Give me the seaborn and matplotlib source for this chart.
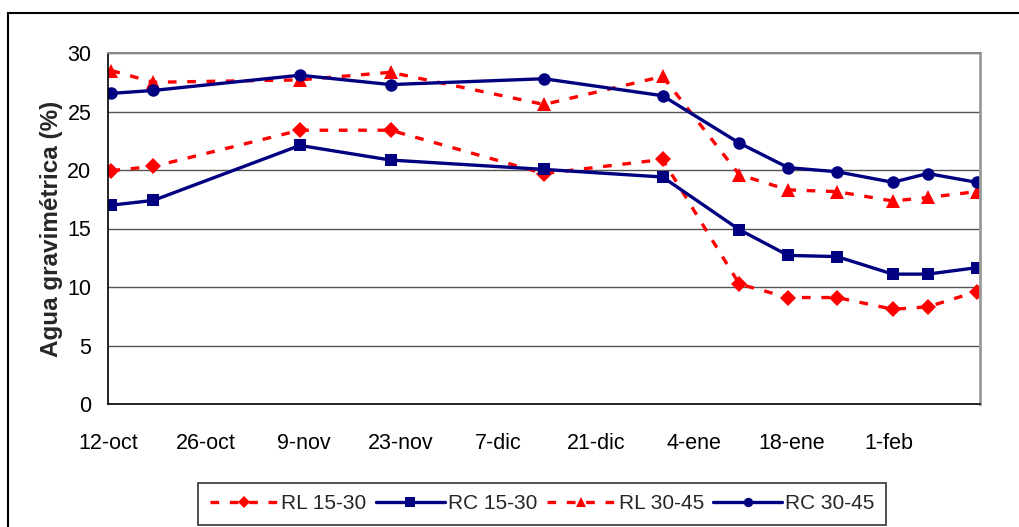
import matplotlib
matplotlib.use("Agg")
import matplotlib.pyplot as plt
from matplotlib.patches import Rectangle
import seaborn as sns
import pandas as pd

# ---- data ----
dates = ["2005-10-12", "2005-10-18", "2005-11-08", "2005-11-21", "2005-12-13", "2005-12-30",
         "2006-01-10", "2006-01-17", "2006-01-24", "2006-02-01", "2006-02-06", "2006-02-13"]
rl_15_30 = [19.95, 20.3, 23.4, 23.4, 19.7, 20.9, 10.25, 9.1, 9.1, 8.1, 8.3, 9.6]
rc_15_30 = [17.0, 17.4, 22.1, 20.85, 20.05, 19.4, 14.9, 12.7, 12.6, 11.1, 11.1, 11.65]
rl_30_45 = [28.5, 27.5, 27.7, 28.35, 25.6, 28.0, 19.6, 18.3, 18.15, 17.35, 17.65, 18.15]
rc_30_45 = [26.55, 26.8, 28.1, 27.3, 27.8, 26.35, 22.3, 20.2, 19.85, 18.95, 19.7, 18.95]
series_labels = ["RL 15-30", "RC 15-30", "RL 30-45", "RC 30-45"]
tick_dates = ["2005-10-12", "2005-10-26", "2005-11-09", "2005-11-23", "2005-12-07",
              "2005-12-21", "2006-01-04", "2006-01-18", "2006-02-01"]
tick_labels = ["12-oct", "26-oct", "9-nov", "23-nov", "7-dic", "21-dic", "4-ene", "18-ene", "1-feb"]
y_label = "Agua gravimétrica (%)"

sns.set_style("white")
plt.rcParams["font.family"] = ["Liberation Sans", "DejaVu Sans"]

x = pd.to_datetime(dates) + pd.Timedelta(hours=12)
df = pd.DataFrame({"fecha": x, series_labels[0]: rl_15_30, series_labels[1]: rc_15_30,
                   series_labels[2]: rl_30_45, series_labels[3]: rc_30_45})

fig = plt.figure(figsize=(10.19, 5.27), dpi=100)
ax = fig.add_axes([108 / 1019, 1 - 404 / 527, (980 - 108) / 1019, (404 - 53) / 527])

red = "#FF0000"
navy = "#000080"
styles = [
    dict(color=red, marker="D", markersize=8, linestyle=(0, (2.6, 3.2)), linewidth=2.4),
    dict(color=navy, marker="s", markersize=9, linestyle="-", linewidth=2.4),
    dict(color=red, marker="^", markersize=10, linestyle=(0, (2.6, 3.2)), linewidth=2.4),
    dict(color=navy, marker="o", markersize=9, linestyle="-", linewidth=2.4),
]
for lab, st in zip(series_labels, styles):
    sns.lineplot(data=df, x="fecha", y=lab, ax=ax, label=lab, markeredgewidth=0, **st)

ax.set_ylim(0, 30)
ax.set_yticks(range(0, 31, 5))
ax.set_xlim(pd.Timestamp("2005-10-12"), pd.Timestamp("2006-02-14"))
ax.set_xticks(pd.to_datetime(tick_dates))
ax.set_xticklabels(tick_labels)
ax.set_xlabel("")
ax.set_ylabel(y_label, fontsize=17.5, fontweight="bold", labelpad=3)
ax.tick_params(axis="both", labelsize=15.5, direction="out", length=6, width=1, colors="black")
ax.tick_params(axis="x", pad=15)
ax.tick_params(axis="y", pad=6)
ax.grid(axis="y", color="#555555", linewidth=1)
ax.grid(axis="x", visible=False)
for s in ["left", "bottom"]:
    ax.spines[s].set_color("black")
    ax.spines[s].set_linewidth(1.2)
ax.spines["top"].set_color("#888888")
ax.spines["top"].set_linewidth(1.5)
ax.spines["right"].set_color("#999999")
ax.spines["right"].set_linewidth(2)

handles, labels = ax.get_legend_handles_labels()
ax.get_legend().remove()
leg = fig.legend(handles, labels, loc="upper center", bbox_to_anchor=(542 / 1019, 1 - 483 / 527),
                 ncol=4, fontsize=15, frameon=True, fancybox=False, edgecolor="black",
                 handlelength=3.3, handletextpad=0.15, columnspacing=0.45, borderpad=0.55,
                 borderaxespad=0, markerscale=0.75)
leg.get_frame().set_linewidth(1.2)

fig.patches.append(Rectangle((8 / 1019, -0.1), 1.2, 1 - 13 / 527 + 0.1, transform=fig.transFigure,
                             fill=False, edgecolor="black", linewidth=1.5))

fig.savefig("out.png", dpi=100, facecolor="white")
